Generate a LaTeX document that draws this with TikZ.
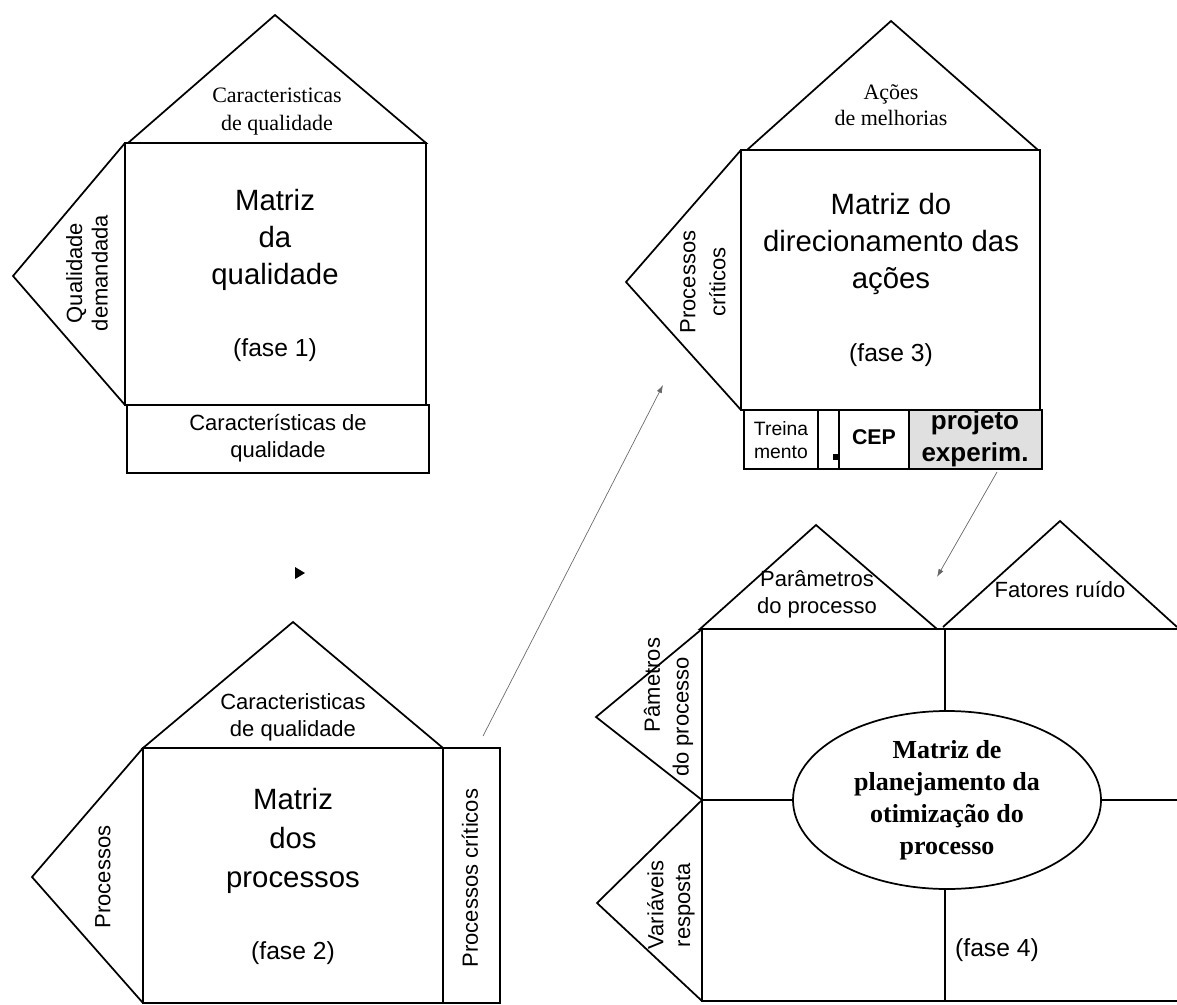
\documentclass[tikz,border=0pt]{standalone}
\usepackage{fontspec}
\setmainfont{Liberation Sans}
\newfontfamily\serifface{Liberation Serif}
\usetikzlibrary{shapes.geometric,arrows.meta}

\begin{document}
\begin{tikzpicture}[x=0.75pt,y=-0.75pt,
  outline/.style={draw=black,line width=1.3pt,line join=miter},
  bigtxt/.style={font=\fontsize{22}{28}\selectfont,align=center,inner sep=0pt},
  fasetxt/.style={font=\fontsize{18.5}{22}\selectfont,inner sep=0pt},
  lbl/.style={font=\fontsize{16.5}{20}\selectfont,align=center,inner sep=0pt},
  rooflbl/.style={font=\serifface\fontsize{16.5}{20}\selectfont,align=center,inner sep=0pt},
  sidelbl/.style={lbl,rotate=90},
  flowline/.style={draw=black!60,line width=0.5pt,-{Latex[length=6pt,width=4pt]}},
]
% page
\fill[white] (0,0) rectangle (1177,1005);
\useasboundingbox (0,0) rectangle (1177,1005);

% ---------------- fase 1: matriz da qualidade ----------------
\draw[outline] (128,143) -- (275,15) -- (426,143) -- cycle;
\draw[outline] (125,143) rectangle (426,405);
\draw[outline] (125,143) -- (13,276) -- (125,405);
\draw[outline] (127,405) rectangle (429,473);
\node[rooflbl,font=\serifface\fontsize{16.5}{21}\selectfont] (r1) at (277,112) {Caracteristicas\\de qualidade};
\node[bigtxt] (m1) at (275,240) {Matriz\\da\\qualidade};
\node[fasetxt] (f1) at (275,350) {(fase 1)};
\node[sidelbl,font=\fontsize{16.5}{19}\selectfont] (s1) at (87,273) {Qualidade\\demandada};
\node[lbl] (b1) at (278,438) {Características de\\qualidade};

% ---------------- fase 2: matriz dos processos ----------------
\draw[outline] (143,748) -- (293,622) -- (443,748) -- cycle;
\draw[outline] (143,748) rectangle (443,1003);
\draw[outline] (143,748) -- (32,877) -- (143,1003);
\draw[outline] (443,748) rectangle (500,1003);
\node[lbl] (r2) at (293,717) {Caracteristicas\\de qualidade};
\node[bigtxt,font=\fontsize{22}{29}\selectfont] (m2) at (293,841) {Matriz\\dos\\processos};
\node[fasetxt] (f2) at (293,953) {(fase 2)};
\node[sidelbl] (s2) at (103,877) {Processos};
\node[sidelbl] (c2) at (470,878) {Processos críticos};

% ---------------- fase 3: matriz do direcionamento das ações ----------------
\draw[outline] (747,150) -- (891,21) -- (1038,150) -- cycle;
\draw[outline] (741,150) rectangle (1040,410);
\draw[outline] (741,150) -- (626,282) -- (741,410);
\fill[black!12] (909,410) rectangle (1042,469);
\draw[outline] (744,410) rectangle (818,469);
\draw[outline] (818,410) rectangle (839,469);
\draw[outline] (839,410) rectangle (909,469);
\draw[outline] (909,410) rectangle (1042,469);
\fill[black] (833,454) rectangle (839,460);
\node[rooflbl,font=\serifface\fontsize{16.5}{19.5}\selectfont] (r3) at (891,105) {Ações\\de melhorias};
\node[bigtxt] (m3) at (891,244) {Matriz do\\direcionamento das\\ações};
\node[fasetxt] (f3) at (891,355) {(fase 3)};
\node[sidelbl,font=\fontsize{16.5}{22.5}\selectfont] (s3) at (703,282) {Processos\\críticos};
\node[lbl,font=\fontsize{14.5}{17}\selectfont] (t3) at (781,440) {Treina\\mento};
\node[lbl,font=\bfseries\fontsize{16}{19}\selectfont] (cep) at (874,437) {CEP};
\node[lbl,font=\bfseries\fontsize{19.5}{24}\selectfont] (pe) at (975,439) {projeto\\experim.};

% ---------------- fase 4: matriz de planejamento da otimização ----------------
\draw[outline] (700,629) -- (816,525) -- (937,629) -- cycle;
\draw[outline] (943,627) -- (1060,521) -- (1177,627);
\draw[outline] (1180,629) -- (702,629) -- (702,1001) -- (1180,1001);
\draw[outline] (702,629) -- (596,717) -- (702,800);
\draw[outline] (702,800) -- (597,903) -- (702,1001);
\node[draw,ellipse,line width=1.3pt,minimum width=231pt,minimum height=133.5pt,inner sep=0pt,
      align=center,font=\serifface\bfseries\fontsize{19.5}{24}\selectfont] (ell) at (947,800)
      {Matriz de\\planejamento da\\otimização do\\processo};
\coordinate (v4top) at (945,629);
\coordinate (v4bot) at (945,1001);
\coordinate (h4left) at (702,800);
\coordinate (h4right) at (1177,800);
\draw[outline] (v4top) -- (v4top |- ell.north);
\draw[outline] (v4bot) -- (v4bot |- ell.south);
\draw[outline] (h4left) -- (ell.west);
\draw[outline] (ell.east) -- (h4right);
\node[lbl,font=\fontsize{16.5}{20.5}\selectfont] (r4a) at (817,594) {Parâmetros\\do processo};
\node[lbl] (r4b) at (1060,590) {Fatores ruído};
\node[sidelbl] (s4a) at (652,685) {Pâmetros};
\node[sidelbl] (s4b) at (683,717) {do processo};
\node[sidelbl] (s4c) at (671,905) {Variáveis\\resposta};
\node[fasetxt] (f4) at (997,950) {(fase 4)};

% ---------------- ligações entre as fases ----------------
\fill[black] (295,567) -- (305,573) -- (295,579) -- cycle;
\coordinate (a23from) at (483,736);
\coordinate (a23to) at (663,385);
\coordinate (a34from) at (997,472);
\coordinate (a34to) at (937,577);
\draw[flowline] (a23from) -- (a23to);
\draw[flowline] (a34from) -- (a34to);
\end{tikzpicture}
\end{document}
